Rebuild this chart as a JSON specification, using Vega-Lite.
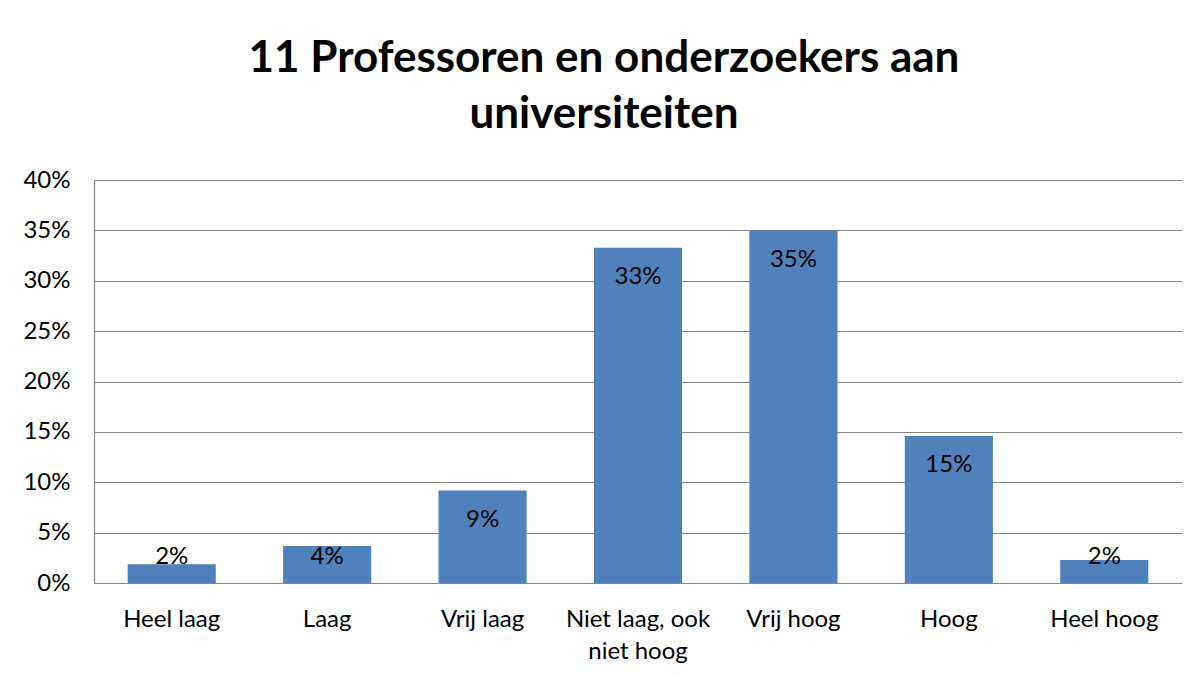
{
  "$schema": "https://vega.github.io/schema/vega-lite/v6.json",
  "autosize": {"type": "none"},
  "width": 1088,
  "height": 403,
  "padding": {"left": 94, "top": 180, "right": 22, "bottom": 92},
  "background": "white",
  "title": {
    "text": ["11 Professoren en onderzoekers aan", "universiteiten"],
    "font": "Lato",
    "fontSize": 44,
    "fontWeight": "bold",
    "color": "#000000",
    "anchor": "middle",
    "frame": "group",
    "dx": -34,
    "offset": 31,
    "lineHeight": 56
  },
  "data": {
    "values": [
      {"categorie": "Heel laag", "aandeel": 0.0185},
      {"categorie": "Laag", "aandeel": 0.0367},
      {"categorie": "Vrij laag", "aandeel": 0.0919},
      {"categorie": "Niet laag, ook niet hoog", "aandeel": 0.3328},
      {"categorie": "Vrij hoog", "aandeel": 0.35},
      {"categorie": "Hoog", "aandeel": 0.146},
      {"categorie": "Heel hoog", "aandeel": 0.0228}
    ]
  },
  "encoding": {
    "x": {
      "field": "categorie",
      "type": "nominal",
      "sort": null,
      "scale": {"paddingInner": 0.433, "paddingOuter": 0.2165},
      "axis": {
        "title": null,
        "labelAngle": 0,
        "ticks": false,
        "domain": false,
        "labelPadding": 24,
        "labelFont": "Lato",
        "labelFontSize": 24,
        "labelColor": "#000000",
        "labelLineHeight": 32,
        "labelBaseline": "top",
        "labelExpr": "datum.value == 'Niet laag, ook niet hoog' ? ['Niet laag, ook', 'niet hoog'] : datum.label"
      }
    }
  },
  "layer": [
    {
      "mark": {"type": "bar", "color": "#4F81BD"},
      "encoding": {
        "y": {
          "field": "aandeel",
          "type": "quantitative",
          "scale": {"domain": [0, 0.4], "nice": false},
          "axis": {
            "title": null,
            "values": [0, 0.05, 0.1, 0.15, 0.2, 0.25, 0.3, 0.35, 0.4],
            "format": ".0%",
            "ticks": false,
            "domain": true,
            "domainColor": "#868686",
            "domainWidth": 1.2,
            "grid": true,
            "gridColor": "#868686",
            "gridWidth": 1.2,
            "labelPadding": 24,
            "labelFont": "Lato",
            "labelFontSize": 24,
            "labelColor": "#000000"
          }
        }
      }
    },
    {
      "transform": [
        {"calculate": "max(datum.aandeel - 0.0293, 0.0257)", "as": "labelpos"}
      ],
      "mark": {"type": "text", "font": "Lato", "fontSize": 24, "color": "#000000", "baseline": "middle"},
      "encoding": {
        "y": {"field": "labelpos", "type": "quantitative"},
        "text": {"field": "aandeel", "type": "quantitative", "format": ".0%"}
      }
    }
  ],
  "config": {"view": {"stroke": null}}
}
